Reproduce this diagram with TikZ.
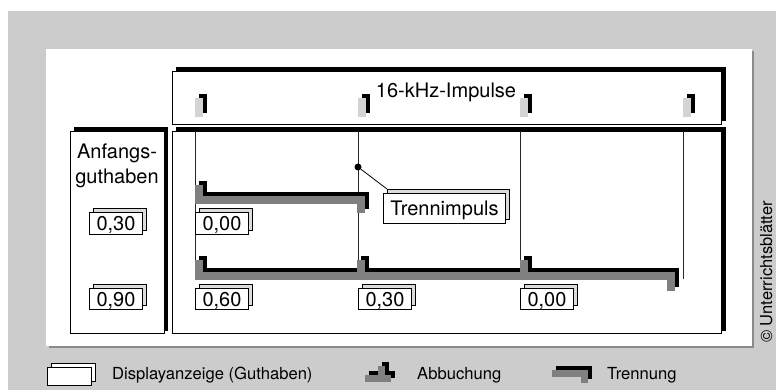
\documentclass[tikz,border=0pt]{standalone}
\usepackage{fontspec}
\setmainfont{TeX Gyre Heros}
\usepackage{xcolor}
\usepackage{tikz}
\usetikzlibrary{shadows}
\definecolor{bggray}{HTML}{CCCCCC}
\definecolor{edgegray}{HTML}{8A8A8A}
\definecolor{tracegray}{HTML}{808080}
\definecolor{pulsegray}{HTML}{D4D4D4}
\definecolor{backfill}{HTML}{DCDCDC}
\newcommand{\mainsize}{\fontsize{20}{25}\selectfont}
\newcommand{\legendsize}{\fontsize{16.6}{20}\selectfont}
\tikzset{
  blackframe/.style={
    rectangle, draw=black, line width=0.8pt, fill=white,
    anchor=north west, inner sep=0pt,
    general shadow={fill=black, draw=black, shadow xshift=3.5pt, shadow yshift=3.5pt}
  },
  valuebox/.style={
    rectangle, draw=black, line width=1pt, fill=white,
    anchor=north west, inner sep=0pt, text depth=0pt,
    minimum width=53pt, minimum height=21pt, font=\mainsize,
    general shadow={fill=#1, draw=black, line width=1pt, shadow xshift=4pt, shadow yshift=4pt}
  },
  valuebox/.default=backfill,
  trace/.style={line width=8pt, draw=tracegray},
  traceshade/.style={line width=8pt, draw=black, shift={(4pt,4pt)}},
  pulseline/.style={line width=0.8pt, draw=black!85},
  legendtext/.style={anchor=base west, inner sep=0pt, font=\legendsize},
}

\begin{document}
\begin{tikzpicture}[x=1pt, y=-1pt]
  \useasboundingbox (0,0) rectangle (776,390);
  \fill[bggray] (8,11) rectangle (776,390);
  % white sheet with its dark edge
  \fill[edgegray] (48.5,51.5) rectangle (754,348);
  \fill[white] (46,49) rectangle (751.5,345.5);

  % frames
  \node[blackframe, minimum width=549, minimum height=53] (pulses) at (172,71) {};
  \node[blackframe, minimum width=549, minimum height=202] (meter) at (172,131) {};
  \node[blackframe, minimum width=93.5, minimum height=202] (start) at (70,131) {};
  \node[anchor=base, font=\mainsize] (pulsetitle) at (446,97.5) {16-kHz-Impulse};
  \node[anchor=north, align=center, inner sep=0pt, font=\mainsize] (starttitle) at (117,143.5) {Anfangs-\\guthaben};

  % pulse marks and their time lines
  \foreach \x in {195,358,520,683} {
    \fill[black] (\x+4,94) rectangle (\x+12,113);
    \fill[pulsegray] (\x,98) rectangle (\x+8,117);
  }
  \foreach \x/\e in {195/260,358/260,520/260,683/279}
    \draw[pulseline] (\x,131) -- (\x,\e);

  % card with 0,30
  \draw[traceshade] (199,185) |- (361,200.5) -- (361,213);
  \draw[trace] (199,185) |- (361,200.5) -- (361,213);
  % card with 0,90
  \draw[traceshade] (199,260) |- (671,276) -- (671,291);
  \foreach \x in {361,524} \draw[traceshade] (\x,260) -- (\x,276);
  \draw[trace] (199,260) |- (671,276) -- (671,291);
  \foreach \x in {361,524} \draw[trace] (\x,260) -- (\x,276);

  % displays
  \node[valuebox] (s30) at (89,212.5) {0,30};
  \node[valuebox] (s90) at (89,288) {0,90};
  \node[valuebox] (a00) at (195,212.5) {0,00};
  \node[valuebox] (b60) at (195,288) {0,60};
  \node[valuebox] (b30) at (358,288) {0,30};
  \node[valuebox] (b00) at (520,288) {0,00};

  \node[valuebox, minimum width=122, minimum height=30] (cut) at (383,193) {Trennimpuls};
  \node[circle, fill=black, inner sep=0pt, minimum size=7] (cutdot) at (358,167) {};
  \draw[line width=0.8pt] (cutdot) -- ([shift={(4pt,4pt)}]cut.north west);

  % legend
  \node[valuebox=white, minimum width=44, minimum height=18] (legdisp) at (47,367) {};
  \node[legendtext] (legdisptext) at (112,379) {Displayanzeige (Guthaben)};
  \draw[traceshade, line width=7pt] (365,378) -- (391,378) (381.5,366) -- (381.5,378);
  \draw[trace, line width=7pt] (365,378) -- (391,378) (381.5,366) -- (381.5,378);
  \node[legendtext] (legdebit) at (417,379) {Abbuchung};
  \draw[traceshade, line width=7pt] (552,373) -| (584,383);
  \draw[trace, line width=7pt] (552,373) -| (584,383);
  \node[legendtext] (legcut) at (607,379) {Trennung};

  \node[rotate=90, anchor=base, inner sep=0pt, font=\fontsize{16.5}{20}\selectfont] (credit) at (772,272) {© Unterrichtsblätter};
\end{tikzpicture}
\end{document}
